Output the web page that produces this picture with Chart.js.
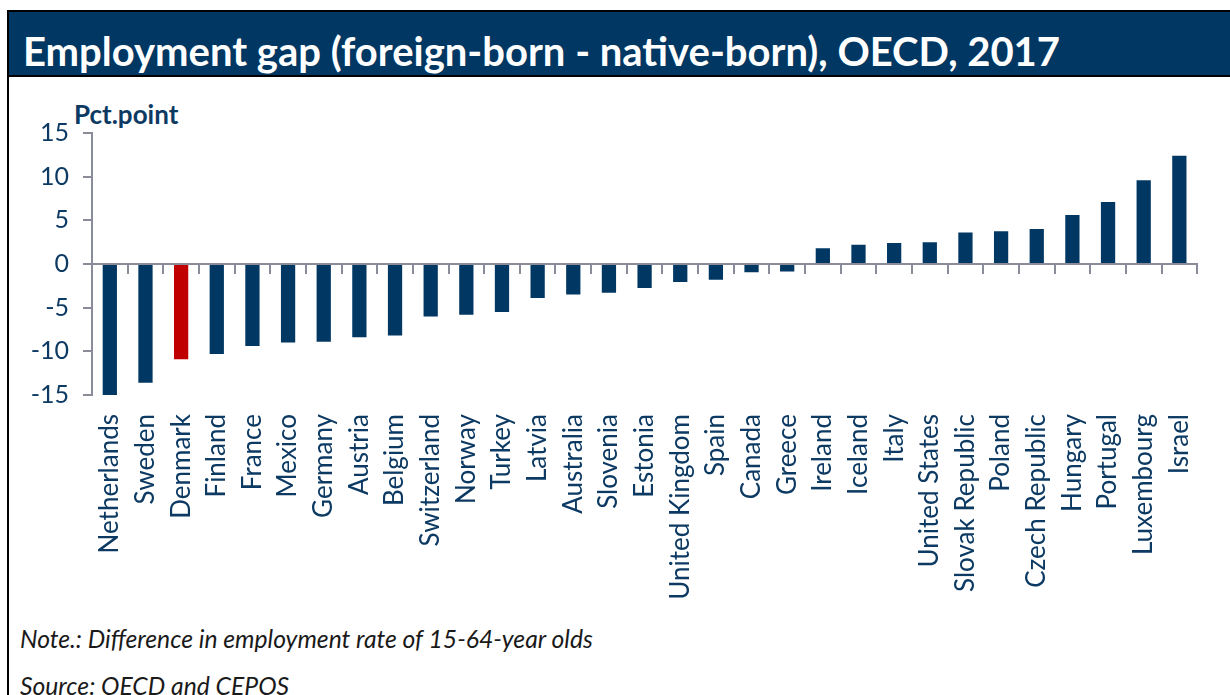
<!DOCTYPE html>
<html>
<head>
<meta charset="utf-8">
<script src="https://cdn.jsdelivr.net/npm/chart.js@4"></script>
<style>
  html, body { margin:0; padding:0; background:#fff; overflow:hidden; }
  body { width:1230px; height:695px; position:relative; font-family: Lato, sans-serif; }
  #frame { position:absolute; left:7px; top:10px; width:1240px; height:720px; border:2px solid #000; box-sizing:border-box; }
  #title { position:absolute; left:0; top:0; right:0; height:65px; background:#003763; border-bottom:2px solid #000;
           color:#fff; font-weight:bold; font-size:40px; line-height:78px; padding-left:14px; box-sizing:border-box; overflow:hidden; }
  #unit { position:absolute; left:74px; top:98px; font-weight:bold; font-size:26px; color:#0d3a63; }
  #wrap { position:absolute; left:8px; top:76px; width:1222px; height:540px; }
  .note { position:absolute; left:20px; font-style:italic; font-size:24.7px; color:#1a1a1a; }
</style>
</head>
<body>
<div id="frame"><div id="title">Employment gap (foreign-born - native-born), OECD, 2017</div></div>
<div id="unit">Pct.point</div>
<div id="wrap"><canvas id="grafico"></canvas></div>
<div class="note" style="top:624px">Note.: Difference in employment rate of 15-64-year olds</div>
<div class="note" style="top:671px">Source: OECD and CEPOS</div>
<script>
const paises = ['Netherlands','Sweden','Denmark','Finland','France','Mexico','Germany','Austria','Belgium','Switzerland',
  'Norway','Turkey','Latvia','Australia','Slovenia','Estonia','United Kingdom','Spain','Canada','Greece',
  'Ireland','Iceland','Italy','United States','Slovak Republic','Poland','Czech Republic','Hungary','Portugal','Luxembourg','Israel'];
const gap = [-15.0,-13.6,-10.9,-10.3,-9.4,-9.0,-8.9,-8.4,-8.2,-6.0,
  -5.8,-5.5,-3.9,-3.5,-3.3,-2.75,-2.05,-1.8,-0.95,-0.85,
  1.8,2.2,2.4,2.5,3.6,3.75,4.0,5.6,7.1,9.6,12.4];
const destaque = 'Denmark';

const navy = '#003763';
const vermelho = '#c00000';
const cinza = '#8a8d99';
const texto = '#0d3a63';

const cores = paises.map(p => p === destaque ? vermelho : navy);

new Chart(document.getElementById('grafico'), {
  type: 'bar',
  data: {
    labels: paises,
    datasets: [{ data: gap, backgroundColor: cores, barPercentage: 0.4, categoryPercentage: 1 }]
  },
  options: {
    responsive: true,
    maintainAspectRatio: false,
    animation: false,
    layout: { padding: { top: 57, right: 28, left: 0, bottom: 0 } },
    plugins: { legend: { display: false }, tooltip: { enabled: false } },
    scales: {
      x: {
        offset: true,
        grid: { display: false, drawTicks: false },
        border: { display: false },
        ticks: { autoSkip: false, minRotation: 90, maxRotation: 90, padding: 19,
                 color: texto, font: { family: 'Lato', size: 26 } },
        afterFit: s => { s.height = 221; }
      },
      zero: {
        type: 'category',
        axis: 'x',
        position: { y: 0 },
        offset: true,
        grid: { drawOnChartArea: false, offset: true, tickLength: 9, lineWidth: 2, color: cinza },
        border: { color: cinza, width: 2 },
        ticks: { display: false }
      },
      y: {
        min: -15, max: 15,
        ticks: { stepSize: 5, padding: 14, color: texto, font: { family: 'Lato', size: 25 } },
        grid: { drawOnChartArea: false, tickLength: 9, lineWidth: 2, color: cinza },
        border: { color: cinza, width: 2 },
        afterFit: s => { s.width = 84; }
      }
    }
  }
});
</script>
</body>
</html>
